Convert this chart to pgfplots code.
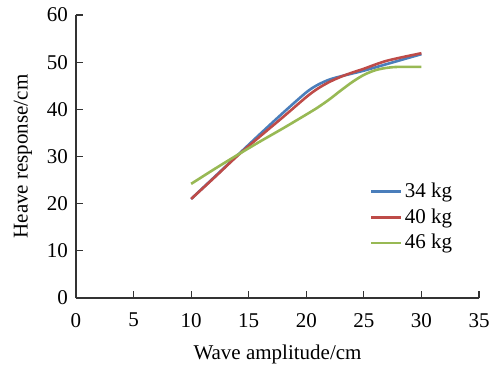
\documentclass[border=0pt]{standalone}
\usepackage{fontspec}
\setmainfont{Liberation Serif}
\usepackage{pgfplots}
\pgfplotsset{compat=1.18}
\definecolor{cblue}{HTML}{4A7EBB}
\definecolor{cred}{HTML}{BE4B48}
\definecolor{cgreen}{HTML}{98B954}
\begin{document}
\fontsize{21bp}{25bp}\selectfont
\begin{tikzpicture}
\begin{axis}[
  scale only axis, width=403bp, height=283bp,
  xmin=0, xmax=35, ymin=0, ymax=60,
  axis x line=bottom, axis y line=left,
  axis line style={-, line width=1.2bp, color=black!80},
  xtick={0,5,...,35}, ytick={0,10,...,60},
  tick style={line width=1.2bp, color=black!80},
  major tick length=7bp, tick align=inside,
  /pgf/number format/assume math mode=true,
  tick label style={font=\fontsize{21bp}{25bp}\selectfont},
  xticklabel style={yshift=-8bp},
  yticklabel style={xshift=-1bp},
  xlabel={Wave amplitude/cm}, ylabel={Heave response/cm},
  xlabel style={at={(axis description cs:0.5,0)}, anchor=center, yshift=-56bp},
  every axis y label/.style={at={(axis description cs:0,0.5)}, anchor=center, xshift=-53bp, rotate=90},
  legend style={draw=none, fill=none, at={(0.7295,0.415)}, anchor=north west,
    inner sep=0pt, row sep=4bp, font=\fontsize{21bp}{25bp}\selectfont},
  legend cell align=left,
  legend image code/.code={\draw[#1, line width=2.6bp] (0bp,0bp) -- (30bp,0bp);},
  every axis plot/.append style={line width=2.6bp, smooth, no markers},
]
\addplot[cblue] coordinates {(10,21.0) (12,25.6) (14,30.2) (16,34.8) (18,39.3) (20,43.6) (21,45.2) (22,46.3) (23,47.0) (24,47.6) (25,48.2) (27,49.6) (30,51.7)};
\addlegendentry{34 kg}
\addplot[cred] coordinates {(10,21.0) (12,25.5) (14,30.1) (16,34.3) (18,38.4) (20,42.6) (21,44.4) (22,45.8) (23,46.9) (24,47.8) (25,48.6) (27,50.3) (30,51.9)};
\addlegendentry{40 kg}
\addplot[cgreen] coordinates {(10,24.2) (12,27.3) (14,30.3) (16,33.2) (18,36.0) (20,38.9) (21,40.4) (22,42.1) (23,44.0) (24,45.8) (25,47.3) (26,48.3) (27,48.8) (28,49.0) (30,49.0)};
\addlegendentry{46 kg}
\coordinate (bl) at (rel axis cs:0,0);
\coordinate (tr) at (rel axis cs:1,1);
\end{axis}
\pgfresetboundingbox
\path[use as bounding box] ([shift={(-76bp,-70bp)}]bl) rectangle ([shift={(16bp,15bp)}]tr);
\end{tikzpicture}
\end{document}
